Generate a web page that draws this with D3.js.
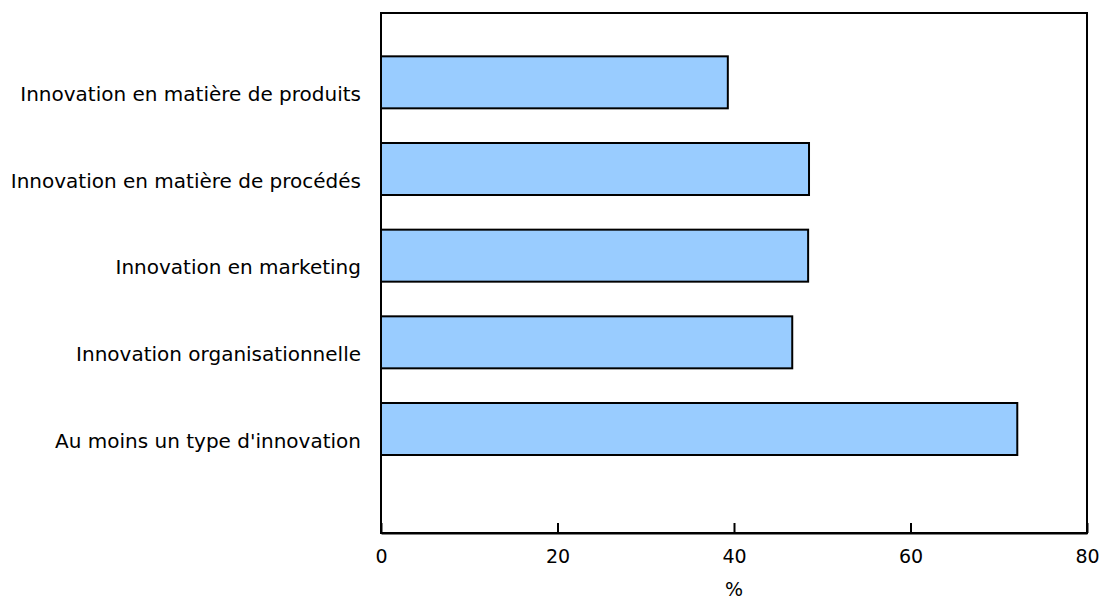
<!DOCTYPE html>
<html>
<head>
<meta charset="utf-8">
<script src="https://cdn.jsdelivr.net/npm/d3@7"></script>
<style>
  html, body { margin: 0; padding: 0; background: #fff; }
  svg { display: block; }
  text { font-family: "DejaVu Sans", Verdana, sans-serif; fill: #000; }
</style>
</head>
<body>
<svg id="chart" width="1101" height="602"></svg>
<script>
const categories = [
  "Innovation en matière de produits",
  "Innovation en matière de procédés",
  "Innovation en marketing",
  "Innovation organisationnelle",
  "Au moins un type d'innovation"
];
const values = [39.3, 48.5, 48.4, 46.6, 72.1];
const xTicks = [0, 20, 40, 60, 80];
const xTitle = "%";

(function () {
const plotLeft = 381, plotRight = 1087, plotTop = 13, plotBottom = 533;

const svg = d3.select("#chart");

const x = d3.scaleLinear().domain([0, 80]).range([plotLeft, plotRight]);
const y = d3.scaleLinear().domain([-0.8, 5.2]).range([plotTop, plotBottom]);
const barH = y(0.6) - y(0);

svg.append("rect")
  .attr("x", plotLeft).attr("y", plotTop)
  .attr("width", plotRight - plotLeft).attr("height", plotBottom - plotTop)
  .attr("fill", "none").attr("stroke", "#000").attr("stroke-width", 2);

svg.selectAll("rect.bar").data(values).enter().append("rect")
  .attr("class", "bar")
  .attr("x", x(0))
  .attr("y", (d, i) => y(i) - barH / 2)
  .attr("width", d => x(d) - x(0))
  .attr("height", barH)
  .attr("fill", "#99ccff")
  .attr("stroke", "#000")
  .attr("stroke-width", 2);

const xAxis = d3.axisBottom(x).tickValues(xTicks).tickSize(-10).tickPadding(0).tickSizeOuter(0);
const gx = svg.append("g").attr("transform", `translate(0,${plotBottom})`).call(xAxis);
gx.select(".domain").attr("stroke", "#000").attr("stroke-width", 2);
gx.selectAll(".tick line").attr("stroke", "#000").attr("stroke-width", 2);
gx.selectAll(".tick text")
  .attr("y", 30).attr("dy", null)
  .style("font-family", "DejaVu Sans, Verdana, sans-serif")
  .style("font-size", "19px").attr("fill", "#000");

svg.selectAll("text.cat").data(categories).enter().append("text")
  .attr("class", "cat")
  .attr("x", plotLeft - 20)
  .attr("y", (d, i) => y(i) + 18.5)
  .attr("text-anchor", "end")
  .style("font-size", "20px")
  .text(d => d);

svg.append("text")
  .attr("x", (plotLeft + plotRight) / 2)
  .attr("y", 596)
  .attr("text-anchor", "middle")
  .style("font-size", "19px")
  .text(xTitle);
})();
</script>
</body>
</html>
